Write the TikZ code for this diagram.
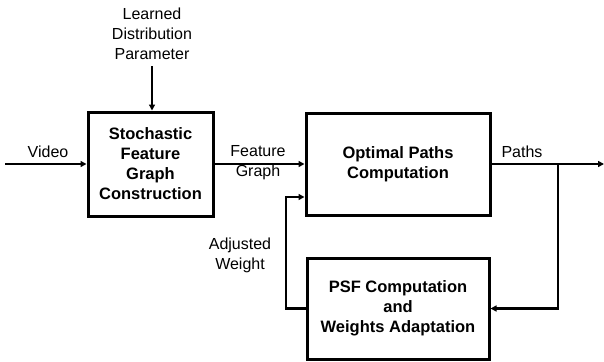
\documentclass[tikz,border=0pt]{standalone}
\usepackage{fontspec}
\setmainfont{Liberation Sans}
\usetikzlibrary{arrows.meta}
\begin{document}
\begin{tikzpicture}[x=1pt,y=-1pt,
  blk/.style={draw,line width=3pt,minimum width=#1,inner sep=0pt,align=center,font=\fontsize{16.5}{20}\selectfont\bfseries},
  lbl/.style={align=center,font=\fontsize{16}{20}\selectfont,inner sep=0pt},
  conn/.style={line width=2.8pt,-{Triangle[length=6pt,width=6pt]}},
  plain/.style={line width=2.5pt}]
\useasboundingbox (0,0) rectangle (604,361);
\node[blk=125pt,minimum height=104pt] (sfg) at (150.5,164) {Stochastic\\Feature\\Graph\\Construction};
\node[blk=184pt,minimum height=102pt] (opc) at (398,164) {Optimal Paths\\Computation};
\node[blk=182pt,minimum height=101pt] (psf) at (398,308.5) {PSF Computation\\and\\Weights Adaptation};
\coordinate (vin) at (5,164);
\coordinate (ldp) at (152,66);
\coordinate (pout) at (604,164);
\coordinate (br) at (558,164);
\coordinate (fb) at (286,308.5);
\node[lbl] (ldptext) at (152,34) {Learned\\Distribution\\Parameter};
\node[lbl] (vtext) at (48,152) {Video};
\node[lbl] (fgtext) at (258,163) {Feature\\Graph};
\node[lbl] (ptext) at (522,152) {Paths};
\node[lbl] (awtext) at (240,255) {Adjusted\\Weight};
\draw[conn] (vin) -- (sfg.west);
\draw[line width=1.3pt,-{Triangle[length=6pt,width=6pt]}] (ldp) -- (sfg.north -| ldp);
\draw[conn] (sfg.east) -- (opc.west);
\draw[conn] (opc.east) -- (pout);
\draw[conn] (br) |- (psf.east);
\draw[conn] (psf.west) -- (fb) |- ([yshift=-33pt]opc.west);
\end{tikzpicture}
\end{document}
